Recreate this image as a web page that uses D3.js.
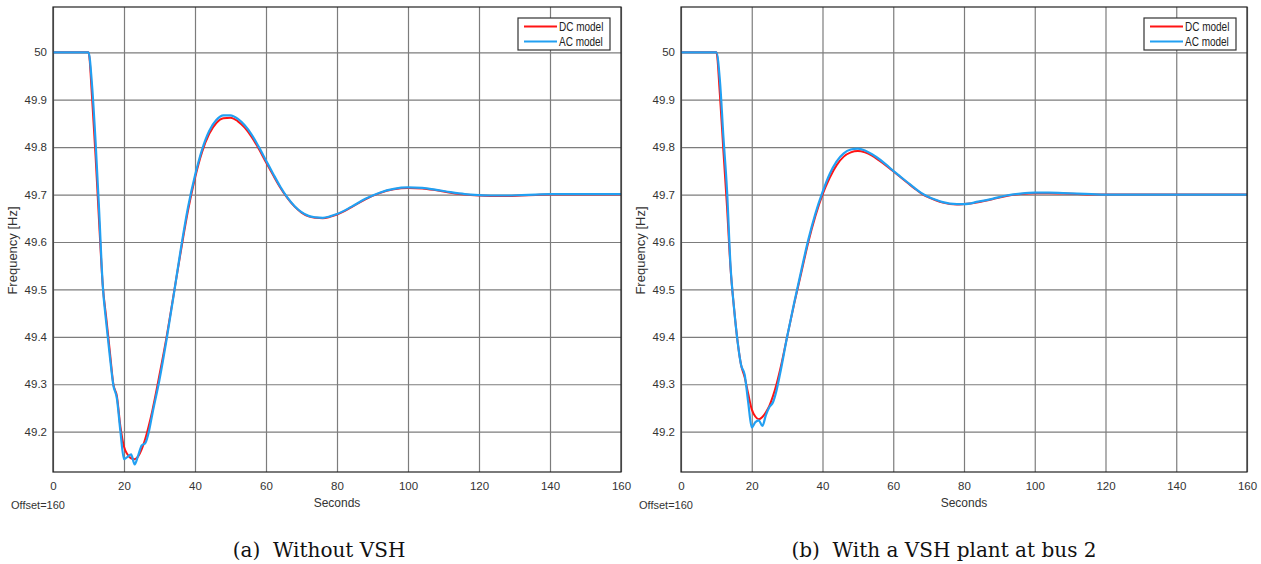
<!DOCTYPE html>
<html>
<head>
<meta charset="utf-8">
<script src="https://cdn.jsdelivr.net/npm/d3@7"></script>
<style>
  body { margin: 0; background: #fff; }
  svg { display: block; }
</style>
</head>
<body>
<svg id="fig" width="1261" height="564"></svg>
<script>
// Simulation time stamps [s] shared by both cases
const timeA = [0,10,11,12,13,14,15,16,17,18,19,20,21,22,23,24,25,26,27,28,
  30,32,34,36,38,40,42,44,46,48,50,52,54,56,58,60,62,64,66,68,70,72,74,76,78,80,
  84,88,92,96,100,104,108,112,116,120,124,128,132,136,140,150,160];
const timeB = timeA;

// (a) Without VSH: system frequency [Hz]
const dcA = [50,50,49.905,49.78,49.64,49.51,49.44,49.37,49.30,49.275,49.21,49.168,49.152,49.144,49.142,49.148,49.163,49.185,49.213,49.245,
  49.32,49.40,49.49,49.58,49.665,49.735,49.79,49.828,49.851,49.861,49.862,49.855,49.841,49.821,49.796,49.768,49.741,49.715,49.693,49.675,49.662,49.654,49.651,49.650,49.653,49.658,
  49.673,49.690,49.703,49.711,49.714,49.713,49.709,49.704,49.700,49.698,49.697,49.697,49.698,49.699,49.700,49.700,49.700];
const acA = [50,50,49.93,49.81,49.665,49.51,49.43,49.36,49.298,49.27,49.20,49.142,49.147,49.152,49.131,49.15,49.171,49.176,49.20,49.238,
  49.31,49.395,49.488,49.585,49.672,49.74,49.795,49.834,49.857,49.867,49.867,49.86,49.846,49.826,49.80,49.772,49.744,49.717,49.694,49.676,49.663,49.655,49.652,49.651,49.654,49.659,
  49.674,49.691,49.704,49.712,49.715,49.714,49.710,49.705,49.701,49.699,49.698,49.698,49.699,49.700,49.701,49.701,49.701];

// (b) With a VSH plant at bus 2
const dcB = [50,50,49.91,49.79,49.675,49.545,49.46,49.39,49.34,49.315,49.28,49.247,49.232,49.226,49.231,49.241,49.255,49.275,49.30,49.33,
  49.40,49.47,49.535,49.60,49.655,49.70,49.735,49.762,49.78,49.789,49.792,49.789,49.782,49.772,49.761,49.749,49.737,49.725,49.713,49.702,49.694,49.688,49.683,49.680,49.679,49.680,
  49.684,49.690,49.697,49.701,49.703,49.703,49.702,49.701,49.700,49.700,49.700,49.700,49.700,49.700,49.700,49.700,49.700];
const acB = [50,50,49.94,49.82,49.71,49.55,49.46,49.39,49.34,49.32,49.262,49.209,49.22,49.224,49.212,49.235,49.252,49.262,49.287,49.322,
  49.40,49.472,49.54,49.605,49.66,49.705,49.743,49.77,49.787,49.795,49.797,49.793,49.785,49.775,49.763,49.750,49.738,49.726,49.714,49.703,49.695,49.689,49.684,49.681,49.680,49.680,
  49.685,49.691,49.698,49.702,49.704,49.704,49.703,49.702,49.701,49.700,49.700,49.700,49.700,49.700,49.700,49.700,49.700];

const xTicks = [0,20,40,60,80,100,120,140,160];
const yTicks = [49.2,49.3,49.4,49.5,49.6,49.7,49.8,49.9,50];
const yTickLabels = ["49.2","49.3","49.4","49.5","49.6","49.7","49.8","49.9","50"];
const seriesNames = ["DC model","AC model"];
const xDomain = [0, 160];
const yDomain = [49.115, 50.0955];

const colors = { dc: "#ff1414", ac: "#22a0f2" };
const SANS = '"Liberation Sans", Arial, sans-serif';
const SERIF = '"DejaVu Serif", serif';

const svg = d3.select("#fig");

const panels = [
  { left: 53, right: 621, top: 7, bottom: 472, time: timeA, dc: dcA, ac: acA,
    caption: "(a)  Without VSH", capX: 319 },
  { left: 681, right: 1247, top: 7, bottom: 472, time: timeB, dc: dcB, ac: acB,
    caption: "(b)  With a VSH plant at bus 2", capX: 944 }
];

panels.forEach((p, i) => {
  const g = svg.append("g");
  const x = d3.scaleLinear().domain(xDomain).range([p.left, p.right]);
  const y = d3.scaleLinear().domain(yDomain).range([p.bottom, p.top]);
  const h = p.bottom - p.top, w = p.right - p.left;

  // grid
  g.append("g")
    .attr("transform", `translate(0,${p.bottom})`)
    .call(d3.axisBottom(x).tickValues(xTicks).tickSize(-h).tickFormat(""))
    .call(s => s.select(".domain").remove())
    .call(s => s.selectAll("line").attr("stroke", "#7c7c7c").attr("stroke-width", 1.2));
  g.append("g")
    .attr("transform", `translate(${p.left},0)`)
    .call(d3.axisLeft(y).tickValues(yTicks).tickSize(-w).tickFormat(""))
    .call(s => s.select(".domain").remove())
    .call(s => s.selectAll("line").attr("stroke", "#7c7c7c").attr("stroke-width", 1.2));

  // curves
  const clipId = "clip" + i;
  svg.append("clipPath").attr("id", clipId)
    .append("rect").attr("x", p.left).attr("y", p.top).attr("width", w).attr("height", h);
  const line = d3.line()
    .x((d, k) => x(p.time[k]))
    .y(d => y(d))
    .curve(d3.curveMonotoneX);
  const plot = g.append("g").attr("clip-path", `url(#${clipId})`);
  plot.append("path").datum(p.dc).attr("d", line)
    .attr("fill", "none").attr("stroke", colors.dc).attr("stroke-width", 2)
    .attr("stroke-linejoin", "round");
  plot.append("path").datum(p.ac).attr("d", line)
    .attr("fill", "none").attr("stroke", colors.ac).attr("stroke-width", 2.2)
    .attr("stroke-linejoin", "round");

  // axes box
  g.append("rect").attr("x", p.left).attr("y", p.top).attr("width", w).attr("height", h)
    .attr("fill", "none").attr("stroke", "#222").attr("stroke-width", 1.2);

  // tick labels
  g.append("g")
    .attr("transform", `translate(0,${p.bottom})`)
    .call(d3.axisBottom(x).tickValues(xTicks).tickSize(0).tickPadding(10).tickFormat(d3.format("d")))
    .call(s => s.select(".domain").remove())
    .call(s => s.selectAll("text").style("font-size", "11.5px").style("fill", "#333")
      .style("font-family", SANS));
  g.append("g")
    .attr("transform", `translate(${p.left},0)`)
    .call(d3.axisLeft(y).tickValues(yTicks).tickSize(0).tickPadding(6)
      .tickFormat((d, k) => yTickLabels[k]))
    .call(s => s.select(".domain").remove())
    .call(s => s.selectAll("text").style("font-size", "11.5px").style("fill", "#333")
      .style("font-family", SANS));

  // axis titles
  g.append("text").attr("x", (p.left + p.right) / 2).attr("y", 507)
    .attr("text-anchor", "middle")
    .style("font-family", SANS).style("font-size", "12px").style("fill", "#333")
    .text("Seconds");
  g.append("text")
    .attr("transform", `translate(${p.left - 36},${(p.top + p.bottom) / 2 + 11}) rotate(-90)`)
    .attr("text-anchor", "middle")
    .style("font-family", SANS).style("font-size", "13px").style("fill", "#333")
    .text("Frequency [Hz]");
  g.append("text").attr("x", p.left - 42).attr("y", 509)
    .style("font-family", SANS).style("font-size", "11px").style("fill", "#333")
    .text("Offset=160");

  // legend
  const lg = g.append("g").attr("transform", `translate(${p.right - 103},${p.top + 11})`);
  lg.append("rect").attr("x", 0).attr("y", 0).attr("width", 92).attr("height", 32)
    .attr("fill", "#fff").attr("stroke", "#333").attr("stroke-width", 1.2);
  seriesNames.forEach((name, k) => {
    const yy = 8.5 + k * 15;
    lg.append("line").attr("x1", 6).attr("x2", 39).attr("y1", yy).attr("y2", yy)
      .attr("stroke", k === 0 ? colors.dc : colors.ac).attr("stroke-width", 2);
    // condensed legend lettering
    lg.append("text")
      .attr("transform", `translate(41,${yy + 4.3}) scale(0.8,1)`)
      .style("font-family", SANS).style("font-size", "12.5px").style("fill", "#222")
      .text(name);
  });

  // sub-figure caption
  svg.append("text").attr("x", p.capX).attr("y", 557)
    .attr("text-anchor", "middle")
    .style("font-family", SERIF).style("font-size", "20px").style("fill", "#111")
    .style("white-space", "pre")
    .text(p.caption);
});
</script>
</body>
</html>
